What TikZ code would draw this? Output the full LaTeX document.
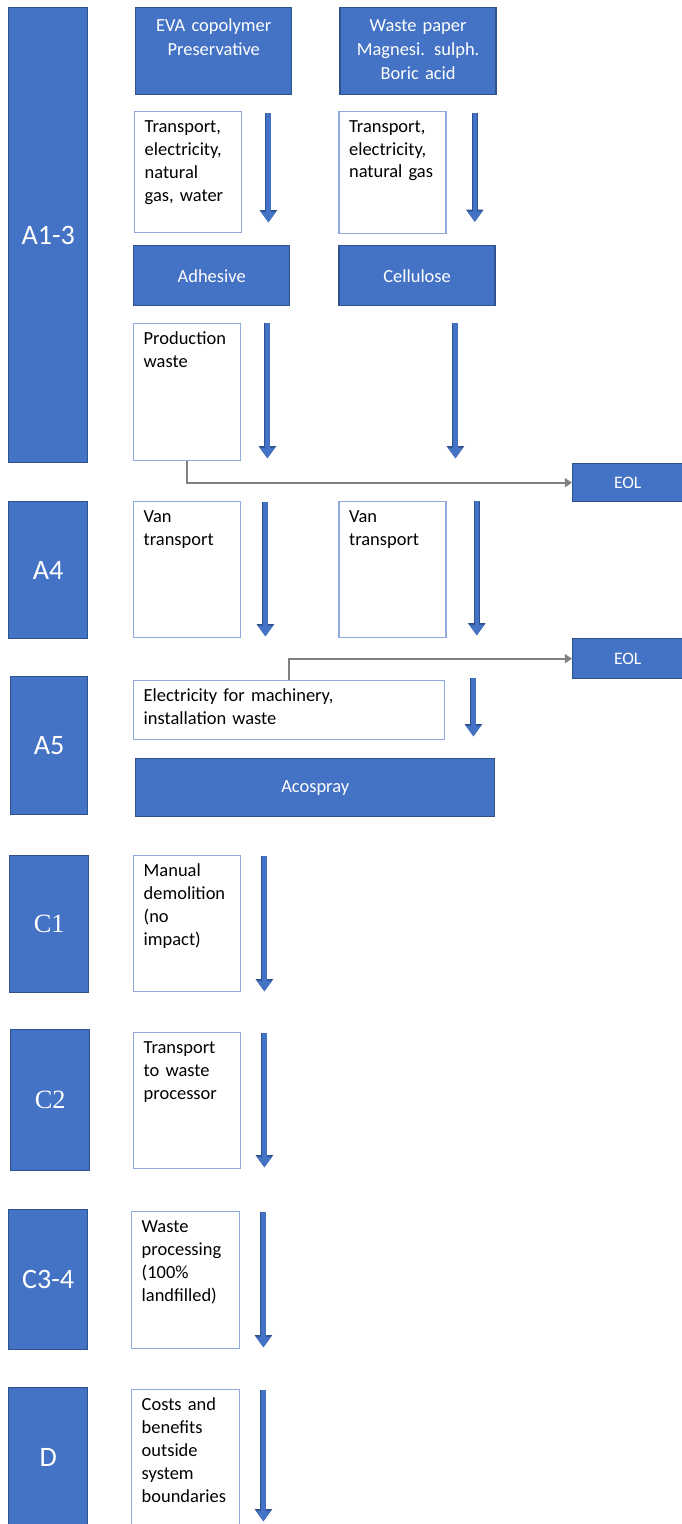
\documentclass[tikz,border=0pt]{standalone}
\usepackage{fontspec}
\setmainfont{Carlito}
\newfontfamily\stageserif{Liberation Serif}
\usetikzlibrary{arrows.meta,positioning}

\definecolor{boxblue}{HTML}{4472C4}
\definecolor{edgeblue}{HTML}{2F528F}
\definecolor{paleedge}{HTML}{8FAADC}
\definecolor{linkgray}{HTML}{808080}

\begin{document}
\begin{tikzpicture}[
  stage/.style={draw=edgeblue, fill=boxblue, line width=0.8pt, anchor=north west, text=white, inner sep=0pt, minimum width=1.58cm, font=\fontsize{16}{19}\selectfont},
  serifstage/.style={stage, font=\stageserif\fontsize{15}{18}\selectfont},
  mat/.style={draw=edgeblue, fill=boxblue, line width=0.8pt, anchor=north west, text=white, align=center, inner sep=0pt, minimum width=3.12cm, font=\fontsize{10.5}{13.6}\selectfont},
  topmat/.style={mat, text width=3.12cm, inner ysep=4pt, text height=9.6pt, text depth={1.74cm-17.6pt}},
  inbox/.style={draw=paleedge, fill=white, line width=0.8pt, anchor=north west, align=left, inner xsep=0.2cm, inner ysep=4pt, text width=1.74cm, text height=8pt, font=\fontsize{10.5}{13}\selectfont},
  deep/.style={text depth={#1-16pt}},
  eol/.style={draw=edgeblue, fill=boxblue, line width=0.8pt, anchor=north west, text=white, inner sep=0pt, minimum width=2.2cm, minimum height=0.76cm, font=\fontsize{10}{12}\selectfont},
  flow/.style={line width=2.4pt, draw=boxblue, -{Triangle[width=8pt,length=6pt]}, preaction={draw=edgeblue, line width=3.4pt, -{Triangle[width=9.6pt,length=7pt]}}},
  link/.style={draw=linkgray, line width=1.2pt, -{Triangle[width=5pt,length=4pt]}}
]
\useasboundingbox (0,0) rectangle (13.62,-30.48);

% life cycle stages
\node[stage, minimum height=9.10cm] (a13) at (0.16,-0.14) {A1-3};
\node[stage, minimum height=2.74cm] (a4) at (0.16,-10.02) {A4};
\node[stage, minimum height=2.76cm, minimum width=1.54cm] (a5) at (0.20,-13.52) {A5};
\node[serifstage, minimum height=2.74cm] (c1) at (0.18,-17.10) {C1};
\node[serifstage, minimum height=2.82cm] (c2) at (0.20,-20.58) {C2};
\node[stage, minimum height=2.80cm] (c34) at (0.16,-24.18) {C3-4};
\node[stage, minimum height=2.80cm] (dstage) at (0.16,-27.74) {D};

% A1-3
\node[topmat] (eva) at (2.70,-0.14) {EVA copolymer\\Preservative};
\node[topmat, right=0.94cm of eva] (paper) {Waste paper\\Magnesi. sulph.\\Boric acid};
\node[inbox, deep=2.42cm] (tr1) at (2.68,-2.22) {Transport,\\electricity,\\natural\\gas, water};
\node[inbox, deep=2.44cm, right=1.92cm of tr1] (tr2) {Transport,\\electricity,\\natural gas};
\node[mat, minimum height=1.20cm] (adhesive) at (2.66,-4.90) {Adhesive};
\node[mat, minimum height=1.20cm, right=0.96cm of adhesive] (cellulose) {Cellulose};
\node[inbox, deep=2.74cm] (prodwaste) at (2.66,-6.46) {Production\\waste};
\node[eol] (eol1) at (11.44,-9.26) {EOL};

% A4
\node[inbox, deep=2.72cm] (van1) at (2.66,-10.02) {Van\\transport};
\node[inbox, deep=2.72cm, right=1.94cm of van1] (van2) {Van\\transport};
\node[eol, minimum height=0.80cm] (eol2) at (11.44,-12.76) {EOL};

% A5
\node[inbox, text width=5.82cm, deep=1.18cm] (elec) at (2.66,-13.60) {Electricity for machinery,\\installation waste};
\node[mat, minimum width=7.18cm, minimum height=1.16cm] (acospray) at (2.70,-15.16) {Acospray};

% C and D
\node[inbox, deep=2.72cm] (demol) at (2.66,-17.10) {Manual\\demolition\\(no\\impact)};
\node[inbox, deep=2.72cm] (trwaste) at (2.66,-20.64) {Transport\\to waste\\processor};
\node[inbox, text width=1.76cm, deep=2.74cm] (wproc) at (2.62,-24.22) {Waste\\processing\\(100\%\\landfilled)};
\node[inbox, text width=1.76cm, deep=2.80cm] (costs) at (2.62,-27.78) {Costs and\\benefits\\outside\\system\\boundaries};

% flow arrows
\draw[flow] ([xshift=0.52cm,yshift=-0.04cm]tr1.north east) -- ([xshift=0.52cm,yshift=0.22cm]tr1.south east);
\draw[flow] ([xshift=0.56cm,yshift=-0.04cm]tr2.north east) -- ([xshift=0.56cm,yshift=0.24cm]tr2.south east);
\draw[flow] ([xshift=0.52cm]prodwaste.north east) -- ([xshift=0.52cm,yshift=0.06cm]prodwaste.south east);
\draw[flow] ([xshift=4.28cm]prodwaste.north east) -- ([xshift=4.28cm,yshift=0.06cm]prodwaste.south east);
\draw[flow] ([xshift=0.48cm,yshift=-0.02cm]van1.north east) -- ([xshift=0.48cm,yshift=0.04cm]van1.south east);
\draw[flow] ([xshift=0.60cm]van2.north east) -- ([xshift=0.60cm,yshift=0.06cm]van2.south east);
\draw[flow] ([xshift=0.56cm,yshift=0.04cm]elec.north east) -- ([xshift=0.56cm,yshift=0.08cm]elec.south east);
\draw[flow] ([xshift=0.46cm,yshift=-0.02cm]demol.north east) -- ([xshift=0.46cm,yshift=0.02cm]demol.south east);
\draw[flow] ([xshift=0.46cm,yshift=-0.02cm]trwaste.north east) -- ([xshift=0.46cm,yshift=0.04cm]trwaste.south east);
\draw[flow] ([xshift=0.46cm,yshift=-0.02cm]wproc.north east) -- ([xshift=0.46cm,yshift=0.04cm]wproc.south east);
\draw[flow] ([xshift=0.46cm,yshift=-0.02cm]costs.north east) -- ([xshift=0.46cm,yshift=0.18cm]costs.south east);

% waste to end of life
\draw[link] (prodwaste.south) |- (eol1.west);
\draw[link] (elec.north) |- (eol2.west);

\end{tikzpicture}
\end{document}
